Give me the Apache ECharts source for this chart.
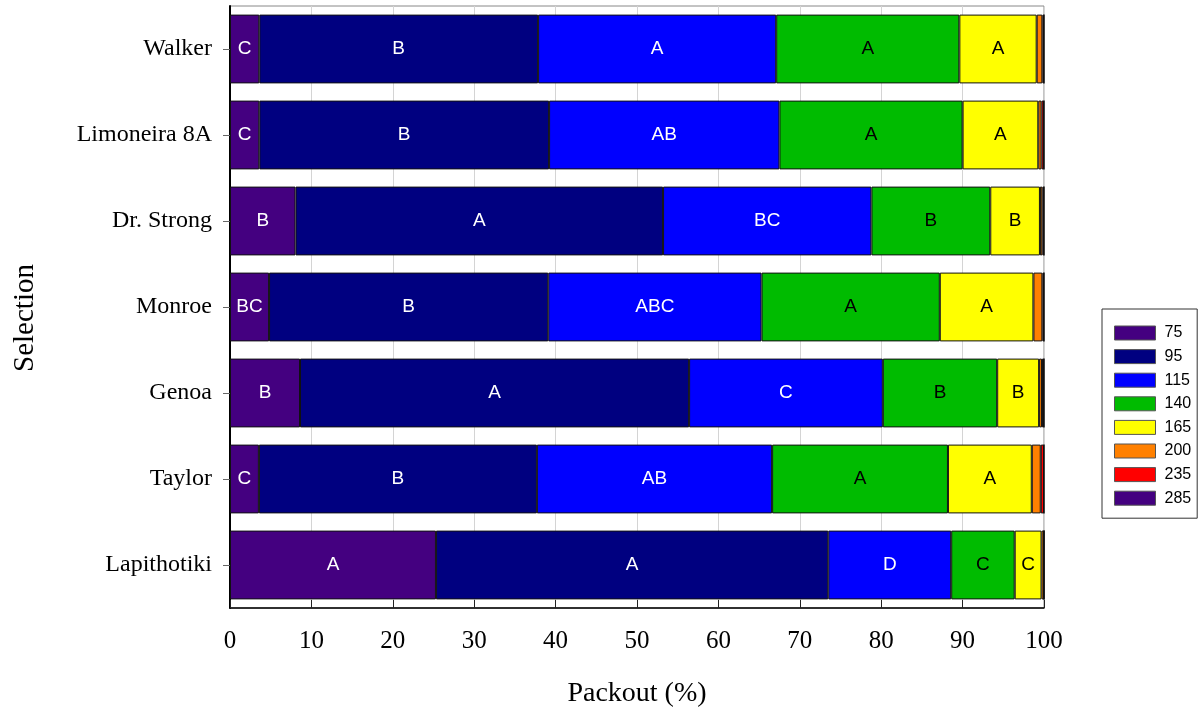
<!DOCTYPE html>
<html>
<head>
<meta charset="utf-8">
<script src="https://cdn.jsdelivr.net/npm/echarts@6/dist/echarts.min.js"></script>
<style>html,body{margin:0;padding:0;background:#fff}#c{width:1204px;height:713px}</style>
</head>
<body>
<div id="c"></div>
<script>
// Categories (top to bottom)
const categories = ["Walker", "Limoneira 8A", "Dr. Strong", "Monroe", "Genoa", "Taylor", "Lapithotiki"];
// Size classes (legend)
const sizeClasses = ["75", "95", "115", "140", "165", "200", "235", "285"];
// Packout (%) per size class, one value per category (same order as categories)
const s75  = [3.6, 3.6, 8.05, 4.8, 8.6, 3.55, 25.3];
const s95  = [34.25, 35.6, 45.15, 34.3, 47.8, 34.15, 48.2];
const s115 = [29.25, 28.3, 25.6, 26.2, 23.8, 28.9, 15.1];
const s140 = [22.5, 22.5, 14.6, 21.9, 14.05, 21.6, 7.8];
const s165 = [9.5, 9.3, 6.1, 11.5, 5.15, 10.3, 3.3];
const s200 = [0.7, 0.4, 0.3, 1.1, 0.35, 1.1, 0.3];
const s235 = [0.2, 0.3, 0.2, 0.2, 0.25, 0.4, 0];
const s285 = [0, 0, 0, 0, 0, 0, 0];
// Significance letters per segment
const L75  = ["C", "C", "B", "BC", "B", "C", "A"];
const L95  = ["B", "B", "A", "B", "A", "B", "A"];
const L115 = ["A", "AB", "BC", "ABC", "C", "AB", "D"];
const L140 = ["A", "A", "B", "A", "B", "A", "C"];
const L165 = ["A", "A", "B", "A", "B", "A", "C"];
// X-axis ticks
const xMin = 0, xMax = 100, xStep = 10;

const values = [s75, s95, s115, s140, s165, s200, s235, s285];
const letters = [L75, L95, L115, L140, L165, null, null, null];
const colors = ["#440080", "#000080", "#0000ff", "#00bb00", "#ffff00", "#ff8000", "#ff0000", "#440080"];
const labelColors = ["#fff", "#fff", "#fff", "#000", "#000", "#000", "#000", "#000"];

const series = sizeClasses.map((name, i) => ({
  name: name,
  type: "bar",
  stack: "total",
  barCategoryGap: "20%",
  data: values[i].map((v, j) => ({ value: v, letter: letters[i] ? letters[i][j] : "" })),
  itemStyle: { color: colors[i], borderColor: "#111", borderWidth: 1 },
  label: {
    show: !!letters[i],
    position: "inside",
    color: labelColors[i],
    fontFamily: "Liberation Sans, Arial, sans-serif",
    fontSize: 19,
    formatter: p => p.data.letter
  },
  emphasis: { disabled: true },
  animation: false
}));

const chart = echarts.init(document.getElementById("c"), null, { renderer: "canvas" });
chart.setOption({
  animation: false,
  backgroundColor: "#fff",
  grid: { left: 230, right: 160, top: 6, bottom: 104, show: true, borderColor: "#888", borderWidth: 1, backgroundColor: "transparent" },
  legend: {
    orient: "vertical",
    left: 1102,
    top: 309,
    data: sizeClasses,
    icon: "rect",
    itemWidth: 41,
    itemHeight: 14,
    itemGap: 7.6,
    padding: [16, 6, 12, 12],
    borderColor: "#333",
    borderWidth: 1,
    selectedMode: false,
    textStyle: { fontFamily: "Liberation Sans, Arial, sans-serif", fontSize: 16, color: "#000", padding: [0, 0, 0, 4] },
    itemStyle: { borderColor: "#555", borderWidth: 1 }
  },
  xAxis: {
    type: "value",
    min: xMin, max: xMax, interval: xStep,
    name: "Packout (%)",
    nameLocation: "middle",
    nameGap: 72,
    nameTextStyle: { fontFamily: "Liberation Serif, Times New Roman, serif", fontSize: 28, color: "#000" },
    axisLine: { show: true, lineStyle: { color: "#000", width: 1.5 } },
    axisTick: { show: true, inside: true, length: 8, lineStyle: { color: "#222" } },
    axisLabel: { margin: 21, fontFamily: "Liberation Serif, Times New Roman, serif", fontSize: 25, color: "#000" },
    splitLine: { show: true, lineStyle: { color: "#d4d4d4", width: 1 } }
  },
  yAxis: {
    type: "category",
    data: categories,
    inverse: true,
    name: "Selection",
    nameLocation: "middle",
    nameGap: 190,
    nameRotate: 90,
    nameTextStyle: { fontFamily: "Liberation Serif, Times New Roman, serif", fontSize: 29, color: "#000", padding: [0, 22, 0, 0] },
    axisLine: { show: true, lineStyle: { color: "#000", width: 2 } },
    axisTick: { show: true, alignWithLabel: true, length: 7, lineStyle: { color: "#666" } },
    axisLabel: { margin: 18, fontFamily: "Liberation Serif, Times New Roman, serif", fontSize: 24, color: "#000" },
    splitLine: { show: false }
  },
  series: series
});
</script>
</body>
</html>
